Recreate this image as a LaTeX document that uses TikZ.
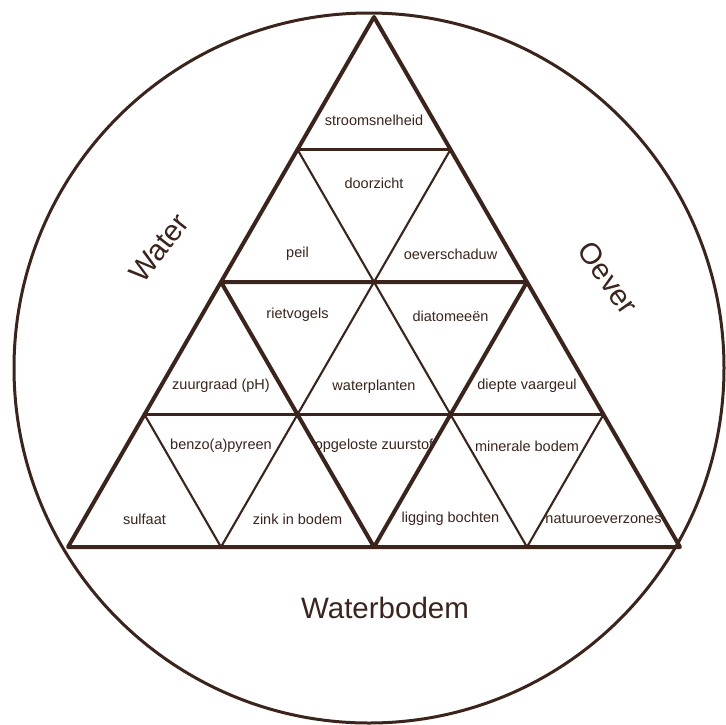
\documentclass[tikz,border=0pt]{standalone}
\usepackage{fontspec}
\setmainfont{Liberation Sans}
\usepackage{xcolor}
\usepackage{tikz}
\definecolor{mybrown}{RGB}{58,36,28}

\tikzset{
  thinline/.style={draw=mybrown, line width=2.1pt},
  thickline/.style={draw=mybrown, line width=4pt, line join=round},
  lbl/.style={font=\fontsize{14.5}{16}\selectfont, text=mybrown, inner sep=0pt},
  biglbl/.style={font=\fontsize{29.5}{32}\selectfont, text=mybrown, inner sep=0pt}
}

\begin{document}
\begin{tikzpicture}[x=1pt, y=-1pt]
  \useasboundingbox (0,0) rectangle (726,724);
  \draw[mybrown, line width=3pt] (369,368) circle[radius=355];

  % grid points, row by row
  \coordinate (p00) at (374,17);
  \coordinate (p10) at (297.5,149.5);
  \coordinate (p11) at (450.5,149.5);
  \coordinate (p20) at (221,282);
  \coordinate (p21) at (374,282);
  \coordinate (p22) at (527,282);
  \coordinate (p30) at (144.5,414.5);
  \coordinate (p31) at (297.5,414.5);
  \coordinate (p32) at (450.5,414.5);
  \coordinate (p33) at (603.5,414.5);
  \coordinate (p40) at (68,547);
  \coordinate (p41) at (221,547);
  \coordinate (p42) at (374,547);
  \coordinate (p43) at (527,547);
  \coordinate (p44) at (680,547);

  % thin lines
  \draw[thinline] (p10) -- (p11);
  \draw[thinline] (p30) -- (p33);
  \draw[thinline] (p10) -- (p43);
  \draw[thinline] (p11) -- (p41);
  \draw[thinline] (p30) -- (p41);
  \draw[thinline] (p33) -- (p43);

  % thick outline and middle triangle
  \draw[thickline] (p00) -- (p40) -- (p44) -- cycle;
  \draw[thickline] (p20) -- (p22) -- (p42) -- cycle;

  % row 1
  \node[lbl] (strm) at (374,120) {stroomsnelheid};
  % row 2
  \node[lbl] (peil) at (297.5,254) {peil};
  \node[lbl] (door) at (374,183) {doorzicht};
  \node[lbl] (schd) at (450.5,254) {oeverschaduw};
  % row 3
  \node[lbl] (zuur) at (221,386) {zuurgraad (pH)};
  \node[lbl] (riet) at (297.5,315) {rietvogels};
  \node[lbl] (plnt) at (374,387) {waterplanten};
  \node[lbl] (diat) at (450.5,316) {diatomeeën};
  \node[lbl] (diep) at (527,386) {diepte vaargeul};
  % row 4
  \node[lbl] (sulf) at (144.5,519) {sulfaat};
  \node[lbl] (benz) at (221,446) {benzo(a)pyreen};
  \node[lbl] (zink) at (297.5,519) {zink in bodem};
  \node[lbl] (opgl) at (374,446) {opgeloste zuurstof};
  \node[lbl] (ligg) at (450.5,519) {ligging bochten};
  \node[lbl] (minr) at (527,446) {minerale bodem};
  \node[lbl] (natu) at (603.5,519) {natuuroeverzones};

  % outer labels
  \node[biglbl, rotate=52] (water) at (159,248) {Water};
  \node[biglbl, rotate=-55] (oever) at (608,278) {Oever};
  \node[biglbl] (bodem) at (385,608) {Waterbodem};
\end{tikzpicture}
\end{document}
